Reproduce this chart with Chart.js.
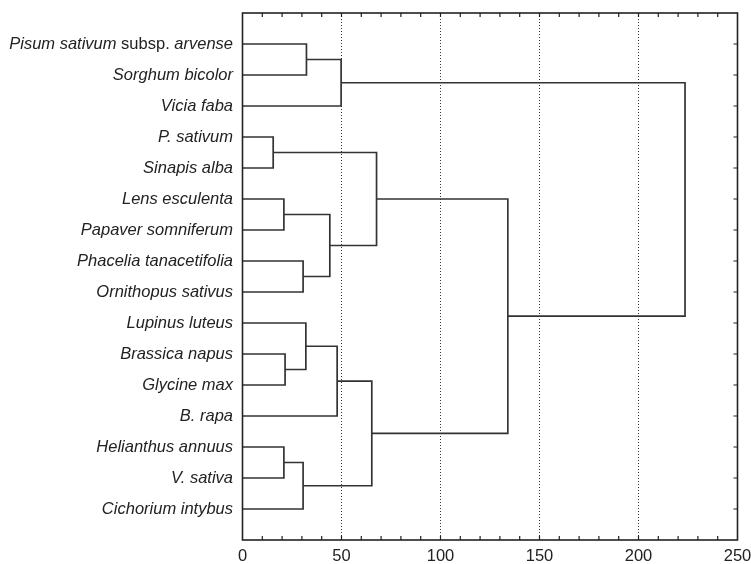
<!DOCTYPE html>
<html>
<head>
<meta charset="utf-8">
<script src="https://cdn.jsdelivr.net/npm/chart.js@4/dist/chart.umd.min.js"></script>
<style>
  html, body { margin: 0; padding: 0; background: #fff; }
  #wrap { width: 751px; height: 564px; position: relative; }
</style>
</head>
<body>
<div id="wrap"><canvas id="dendro"></canvas></div>
<script>
// ── Data ──
var leaves = [
  'Pisum sativum subsp. arvense', 'Sorghum bicolor', 'Vicia faba',
  'P. sativum', 'Sinapis alba', 'Lens esculenta', 'Papaver somniferum',
  'Phacelia tanacetifolia', 'Ornithopus sativus', 'Lupinus luteus',
  'Brassica napus', 'Glycine max', 'B. rapa', 'Helianthus annuus',
  'V. sativa', 'Cichorium intybus'
];
// merge steps: child A, child B (leaf index or 16 + step), linkage distance
var mergeA = [0, 16, 3, 5, 7, 19, 18, 10, 9, 24, 13, 26, 25, 22, 17];
var mergeB = [1, 2, 4, 6, 8, 20, 21, 11, 23, 12, 14, 15, 27, 28, 29];
var mergeDist = [32.3, 49.8, 15.5, 20.9, 30.6, 44.1, 67.7, 21.5, 32.0, 47.8, 20.9, 30.6, 65.3, 134.0, 223.5];
var xTicks = [0, 50, 100, 150, 200, 250];
var uprightWords = ['subsp.'];

var LINE = '#333';
var FONT = "'Liberation Sans', Arial, sans-serif";
var FSIZE = 16.5;

// ── Build link datasets from the merge table ──
var nodeY = [], nodeH = [];
leaves.forEach(function (n, i) { nodeY.push(i + 1); nodeH.push(0); });
var datasets = [];
for (var i = 0; i < mergeDist.length; i++) {
  var a = mergeA[i], b = mergeB[i], h = mergeDist[i];
  datasets.push({
    data: [
      { x: nodeH[a], y: nodeY[a] },
      { x: h, y: nodeY[a] },
      { x: h, y: nodeY[b] },
      { x: nodeH[b], y: nodeY[b] }
    ],
    showLine: true,
    borderColor: LINE,
    borderWidth: 1.7,
    pointRadius: 0,
    tension: 0,
    fill: false
  });
  nodeY.push((nodeY[a] + nodeY[b]) / 2);
  nodeH.push(h);
}

// ── Frame, inward ticks and leaf labels ──
var framePlugin = {
  id: 'frame',
  afterDraw: function (chart) {
    var c = chart.ctx, a = chart.chartArea;
    var xs = chart.scales.x, ys = chart.scales.y;
    c.save();
    c.strokeStyle = '#222';
    c.lineWidth = 1.6;
    c.strokeRect(a.left, a.top, a.right - a.left, a.bottom - a.top);
    c.lineWidth = 1.2;
    c.beginPath();
    for (var v = 10; v < 250; v += 10) {
      var px = xs.getPixelForValue(v);
      c.moveTo(px, a.top); c.lineTo(px, a.top + 4);
      c.moveTo(px, a.bottom); c.lineTo(px, a.bottom - 4);
    }
    for (var k = 0; k < leaves.length; k++) {
      var py = ys.getPixelForValue(k + 1);
      c.moveTo(a.right, py); c.lineTo(a.right - 4, py);
    }
    c.stroke();

    // leaf labels, italic except rank words
    c.fillStyle = '#222';
    c.textBaseline = 'middle';
    c.textAlign = 'left';
    leaves.forEach(function (name, idx) {
      var y = ys.getPixelForValue(idx + 1);
      var words = name.split(' ');
      var parts = words.map(function (w, j) {
        var up = uprightWords.indexOf(w) >= 0;
        return { t: (j ? ' ' : '') + w, f: (up ? '' : 'italic ') + FSIZE + 'px ' + FONT };
      });
      var total = 0;
      parts.forEach(function (p) { c.font = p.f; p.w = c.measureText(p.t).width; total += p.w; });
      var x = a.left - 9.5 - total;
      parts.forEach(function (p) { c.font = p.f; c.fillText(p.t, x, y); x += p.w; });
    });
    c.restore();
  }
};

new Chart(document.getElementById('dendro'), {
  type: 'scatter',
  data: { datasets: datasets },
  options: {
    responsive: true,
    maintainAspectRatio: false,
    animation: false,
    layout: { padding: { top: 13, right: 13.5, left: 0, bottom: 0 } },
    plugins: { legend: { display: false }, tooltip: { enabled: false } },
    scales: {
      x: {
        type: 'linear',
        min: 0, max: 250,
        afterBuildTicks: function (s) { s.ticks = xTicks.map(function (v) { return { value: v }; }); },
        afterFit: function (s) { s.height = 24; s.paddingLeft = 0; s.paddingRight = 0; },
        ticks: { color: '#222', font: { family: FONT, size: FSIZE }, padding: 7, maxRotation: 0 },
        grid: {
          drawTicks: false,
          lineWidth: 1,
          color: function (ctx) {
            var v = ctx.tick && ctx.tick.value;
            return (v === 0 || v === 250) ? 'rgba(0,0,0,0)' : '#333';
          }
        },
        border: { display: false, dash: [1, 2] }
      },
      y: {
        type: 'linear',
        min: 0, max: 17,
        reverse: true,
        afterFit: function (s) { s.width = 242.5; },
        ticks: { display: false },
        grid: { display: false },
        border: { display: false }
      }
    }
  },
  plugins: [framePlugin]
});
</script>
</body>
</html>
